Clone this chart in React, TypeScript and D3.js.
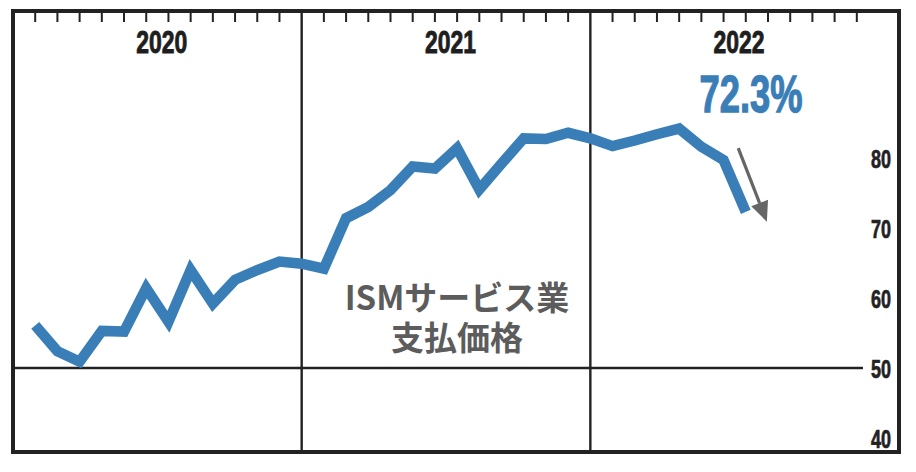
import React from "react";
import * as d3 from "d3";

// ---- data ----
const monthIndex: number[] = Array.from({ length: 33 }, (_, i) => i + 1);
const priceValues: number[] = [
  56.1, 52.4, 50.9, 55.3, 55.2, 61.4, 56.6, 64.0, 59.2, 62.6, 64.0, 65.2,
  64.9, 64.2, 71.4, 73.0, 75.4, 78.8, 78.5, 81.4, 75.5, 79.2, 82.8, 82.7,
  83.6, 82.8, 81.7, 82.5, 83.4, 84.2, 81.6, 79.7, 72.3,
];
const years: string[] = ["2020", "2021", "2022"];
const yearStarts: number[] = [0, 13, 26];
const yTicks: number[] = [40, 50, 60, 70, 80];
const lastLabel = "72.3%";
const titleLines: string[] = ["ISMサービス業", "支払価格"];

const W = 916;
const H = 472;
const left = 13;
const right = 899;
const top = 11;
const bottom = 452;

const x = d3.scaleLinear().domain([0, 39.9]).range([left, right]);
const y = d3.scaleLinear().domain([40, 90]).range([438, 88]);

const narrow = '"Liberation Sans Narrow", "Liberation Sans", Arial, sans-serif';

export default function App() {
  const line = d3
    .line<number>()
    .x((_, i) => x(monthIndex[i]))
    .y((d) => y(d));

  const ticks: number[] = d3.range(1, 39).filter((k) => k % 13 !== 0);

  // arrow annotation
  const a0 = [x(32.66), y(81.4)];
  const a1 = [x(33.95), y(70.9)];
  const dx = a1[0] - a0[0];
  const dy = a1[1] - a0[1];
  const len = Math.hypot(dx, dy);
  const ux = dx / len;
  const uy = dy / len;
  const headLen = 20;
  const headHalf = 9;
  const bx = a1[0] - ux * headLen;
  const by = a1[1] - uy * headLen;
  const head = [
    [a1[0], a1[1]],
    [bx - uy * headHalf, by + ux * headHalf],
    [bx + uy * headHalf, by - ux * headHalf],
  ];

  return (
    <svg
      width={W}
      height={H}
      style={{ position: "absolute", left: 0, top: 0, background: "#fff" }}
    >
      {/* year dividers */}
      {yearStarts.slice(1).map((k) => (
        <line key={k} x1={x(k)} x2={x(k)} y1={top} y2={bottom} stroke="#222" strokeWidth={2.4} />
      ))}
      {/* 50 line */}
      <line x1={left} x2={863} y1={y(50)} y2={y(50)} stroke="#222" strokeWidth={2.5} />
      {/* month ticks */}
      {ticks.map((k) => (
        <line key={k} x1={x(k)} x2={x(k)} y1={top} y2={top + 11} stroke="#222" strokeWidth={2} />
      ))}
      {/* year labels */}
      {years.map((t, i) => (
        <text
          key={t}
          x={x(yearStarts[i] + 6.7)}
          y={53.3}
          textAnchor="middle"
          fontFamily={narrow}
          fontWeight="bold"
          fontSize={31.5}
          fill="#1e1e1e"
          stroke="#1e1e1e"
          strokeWidth={0.9}
          textLength={51}
          lengthAdjust="spacingAndGlyphs"
        >
          {t}
        </text>
      ))}
      {/* y labels */}
      {yTicks.map((v) => (
        <text
          key={v}
          x={891}
          y={y(v) + 9.5}
          textAnchor="end"
          fontFamily={narrow}
          fontWeight="bold"
          fontSize={26.5}
          fill="#222"
          stroke="#222"
          strokeWidth={0.7}
          textLength={20}
          lengthAdjust="spacingAndGlyphs"
        >
          {v}
        </text>
      ))}
      {/* title */}
      <text
        textAnchor="middle"
        fontFamily='"Noto Sans CJK JP", "Noto Sans", sans-serif'
        fontWeight="bold"
        fontSize={33}
        fill="#5c5c5c"
      >
        {titleLines.map((t, i) => (
          <tspan key={t} x={457} y={310 + i * 40}>
            {t}
          </tspan>
        ))}
      </text>
      {/* series line */}
      <path
        d={line(priceValues) || ""}
        fill="none"
        stroke="#3a7eb8"
        strokeWidth={10.5}
        strokeLinejoin="miter"
        strokeMiterlimit={4}
      />
      {/* last value label */}
      <text
        x={751}
        y={111.7}
        textAnchor="middle"
        fontFamily={narrow}
        fontWeight="bold"
        fontSize={51}
        fill="#3a7eb8"
        stroke="#3a7eb8"
        strokeWidth={1.3}
        textLength={103}
        lengthAdjust="spacingAndGlyphs"
      >
        {lastLabel}
      </text>
      {/* arrow */}
      <line x1={a0[0]} y1={a0[1]} x2={bx} y2={by} stroke="#666" strokeWidth={3.2} />
      <polygon points={head.map((p) => p.join(",")).join(" ")} fill="#666" />
      {/* frame */}
      <rect
        x={left}
        y={top}
        width={right - left}
        height={bottom - top}
        fill="none"
        stroke="#222"
        strokeWidth={4}
      />
    </svg>
  );
}
